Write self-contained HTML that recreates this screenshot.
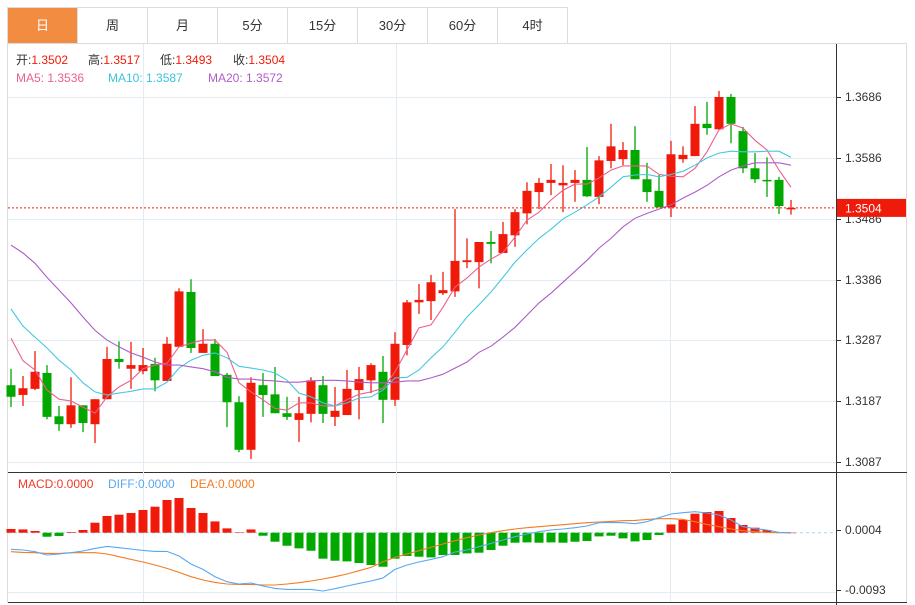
<!DOCTYPE html>
<html><head><meta charset="utf-8">
<style>
html,body{margin:0;padding:0;background:#fff;width:915px;height:605px;overflow:hidden;font-family:"Liberation Sans","Noto Sans CJK SC",sans-serif;}
#tabs{position:absolute;left:7px;top:7px;height:36px;display:flex;border-top:1px solid #dcdcdc;border-left:1px solid #dcdcdc;}
.tab{width:69px;height:35px;border-right:1px solid #dcdcdc;text-align:center;line-height:36px;font-size:13px;color:#333;}
.tab.on{background:#f28c40;color:#fff;}
svg{position:absolute;left:0;top:0;}
</style></head><body>
<div id="tabs">
<div class="tab on">日</div>
<div class="tab">周</div>
<div class="tab">月</div>
<div class="tab">5分</div>
<div class="tab">15分</div>
<div class="tab">30分</div>
<div class="tab">60分</div>
<div class="tab">4时</div>
</div>
<svg id="chart" width="915" height="605"></svg>
<script>
const opens=[1.3213,1.3197,1.3207,1.3233,1.3162,1.3149,1.3180,1.3149,1.3190,1.3256,1.3240,1.3236,1.3248,1.3220,1.3276,1.3366,1.3266,1.3281,1.3230,1.3185,1.3107,1.3213,1.3198,1.3167,1.3156,1.3166,1.3213,1.3161,1.3164,1.3205,1.3221,1.3235,1.3189,1.3279,1.3349,1.3351,1.3364,1.3367,1.3415,1.3415,1.3448,1.3430,1.3459,1.3495,1.3530,1.3545,1.3541,1.3545,1.3550,1.3522,1.3581,1.3584,1.3599,1.3551,1.3532,1.3505,1.3584,1.3589,1.3642,1.3633,1.3686,1.3630,1.3569,1.3550,1.3550,1.3502];
const highs=[1.3240,1.3228,1.3269,1.3246,1.3179,1.3226,1.3180,1.3190,1.3276,1.3285,1.3284,1.3274,1.3258,1.3292,1.3372,1.3387,1.3305,1.3289,1.3233,1.3195,1.3226,1.3233,1.3243,1.3194,1.3194,1.3226,1.3228,1.3210,1.3238,1.3243,1.3249,1.3261,1.3300,1.3353,1.3379,1.3394,1.3399,1.3502,1.3454,1.3448,1.3466,1.3481,1.3502,1.3546,1.3553,1.3576,1.3574,1.3566,1.3604,1.3589,1.3642,1.3612,1.3638,1.3578,1.3558,1.3614,1.3605,1.3671,1.3678,1.3696,1.3691,1.3637,1.3594,1.3587,1.3555,1.3517];
const lows=[1.3177,1.3179,1.3205,1.3157,1.3138,1.3143,1.3136,1.3118,1.3190,1.3240,1.3207,1.3231,1.3203,1.3220,1.3276,1.3266,1.3266,1.3228,1.3144,1.3103,1.3092,1.3161,1.3167,1.3156,1.3120,1.3152,1.3151,1.3146,1.3164,1.3157,1.3200,1.3151,1.3179,1.3262,1.3330,1.3320,1.3361,1.3358,1.3405,1.3372,1.3413,1.3430,1.3440,1.3477,1.3502,1.3525,1.3497,1.3514,1.3522,1.3510,1.3569,1.3574,1.3551,1.3514,1.3505,1.3489,1.3578,1.3589,1.3624,1.3632,1.3610,1.3561,1.3545,1.3522,1.3494,1.3493];
const closes=[1.3194,1.3208,1.3235,1.3161,1.3149,1.3180,1.3151,1.3190,1.3256,1.3251,1.3246,1.3246,1.3221,1.3281,1.3367,1.3274,1.3281,1.3228,1.3185,1.3107,1.3217,1.3197,1.3167,1.3161,1.3167,1.3221,1.3166,1.3171,1.3207,1.3223,1.3246,1.3189,1.3281,1.3349,1.3353,1.3382,1.3369,1.3417,1.3418,1.3448,1.3445,1.3461,1.3497,1.3532,1.3545,1.3550,1.3545,1.3550,1.3523,1.3582,1.3605,1.3599,1.3551,1.3530,1.3505,1.3592,1.3591,1.3642,1.3635,1.3686,1.3642,1.3569,1.3551,1.3548,1.3507,1.3504];
const ma5=[1.3290,1.3253,1.3238,1.3205,1.3190,1.3187,1.3177,1.3167,1.3194,1.3210,1.3221,1.3240,1.3246,1.3249,1.3276,1.3282,1.3287,1.3287,1.3267,1.3217,1.3202,1.3189,1.3175,1.3172,1.3184,1.3184,1.3179,1.3179,1.3189,1.3198,1.3202,1.3208,1.3235,1.3271,1.3307,1.3312,1.3341,1.3374,1.3389,1.3407,1.3420,1.3431,1.3456,1.3484,1.3497,1.3517,1.3533,1.3543,1.3543,1.3553,1.3566,1.3573,1.3573,1.3573,1.3559,1.3556,1.3555,1.3569,1.3596,1.3632,1.3642,1.3635,1.3615,1.3599,1.3566,1.3538];
const ma10=[1.3338,1.3310,1.3292,1.3274,1.3254,1.3238,1.3217,1.3202,1.3197,1.3200,1.3203,1.3207,1.3207,1.3218,1.3241,1.3254,1.3262,1.3266,1.3258,1.3244,1.3241,1.3238,1.3233,1.3221,1.3200,1.3194,1.3184,1.3179,1.3184,1.3192,1.3194,1.3205,1.3225,1.3226,1.3238,1.3258,1.3276,1.3300,1.3325,1.3345,1.3366,1.3390,1.3415,1.3435,1.3454,1.3469,1.3486,1.3497,1.3509,1.3522,1.3538,1.3555,1.3558,1.3559,1.3555,1.3559,1.3564,1.3574,1.3586,1.3594,1.3597,1.3596,1.3596,1.3597,1.3597,1.3587];
const ma20=[1.3443,1.3430,1.3413,1.3390,1.3369,1.3348,1.3325,1.3303,1.3287,1.3276,1.3266,1.3259,1.3251,1.3246,1.3246,1.3243,1.3240,1.3235,1.3226,1.3223,1.3223,1.3221,1.3220,1.3218,1.3218,1.3220,1.3221,1.3221,1.3220,1.3218,1.3217,1.3217,1.3218,1.3220,1.3220,1.3225,1.3231,1.3241,1.3251,1.3267,1.3277,1.3292,1.3308,1.3328,1.3348,1.3364,1.3382,1.3400,1.3418,1.3438,1.3454,1.3473,1.3487,1.3495,1.3502,1.3509,1.3520,1.3530,1.3541,1.3555,1.3566,1.3573,1.3578,1.3578,1.3578,1.3574];
const macdHist=[0.00060,0.00053,0.00028,-0.00065,-0.00053,0.00011,0.00044,0.00162,0.00271,0.00292,0.00319,0.00368,0.00421,0.00530,0.00562,0.00400,0.00319,0.00183,0.00070,0.00005,0.00053,-0.00049,-0.00146,-0.00211,-0.00254,-0.00292,-0.00421,-0.00454,-0.00465,-0.00491,-0.00523,-0.00551,-0.00421,-0.00377,-0.00389,-0.00400,-0.00361,-0.00361,-0.00335,-0.00324,-0.00280,-0.00211,-0.00162,-0.00157,-0.00162,-0.00157,-0.00162,-0.00146,-0.00134,-0.00060,-0.00049,-0.00092,-0.00141,-0.00118,-0.00037,0.00134,0.00206,0.00308,0.00335,0.00352,0.00238,0.00125,0.00081,0.00044,0.00005,0];
const diff=[-0.00269,-0.00280,-0.00308,-0.00361,-0.00345,-0.00324,-0.00296,-0.00254,-0.00222,-0.00243,-0.00264,-0.00287,-0.00303,-0.00303,-0.00377,-0.00507,-0.00595,-0.00713,-0.00794,-0.00831,-0.00815,-0.00863,-0.00902,-0.00919,-0.00919,-0.00919,-0.00944,-0.00907,-0.00863,-0.00821,-0.00782,-0.00734,-0.00595,-0.00523,-0.00475,-0.00433,-0.00389,-0.00313,-0.00280,-0.00227,-0.00173,-0.00118,-0.00065,-0.00021,0.00016,0.00044,0.00060,0.00081,0.00109,0.00162,0.00167,0.00162,0.00146,0.00178,0.00243,0.00303,0.00324,0.00340,0.00319,0.00287,0.00206,0.00097,0.00065,0.00044,0.00005,0];
const dea=[-0.00308,-0.00319,-0.00324,-0.00335,-0.00335,-0.00324,-0.00324,-0.00324,-0.00345,-0.00389,-0.00433,-0.00475,-0.00523,-0.00578,-0.00643,-0.00713,-0.00766,-0.00805,-0.00831,-0.00838,-0.00838,-0.00847,-0.00847,-0.00831,-0.00810,-0.00782,-0.00750,-0.00713,-0.00669,-0.00616,-0.00562,-0.00470,-0.00400,-0.00345,-0.00292,-0.00238,-0.00183,-0.00130,-0.00081,-0.00037,0,0.00032,0.00060,0.00081,0.00097,0.00113,0.00130,0.00146,0.00162,0.00173,0.00183,0.00194,0.00199,0.00215,0.00227,0.00227,0.00215,0.00178,0.00134,0.00097,0.00060,0.00032,0.00016,0.00005,0,0];
const priceTicks=[1.3686,1.3586,1.3486,1.3386,1.3287,1.3187,1.3087];
const macdTicks=[0.0004,-0.0093];
const lastPrice=1.3504;

const NS="http://www.w3.org/2000/svg";
const svg=document.getElementById('chart');
const RED="#f01a0a",GREEN="#00a800";
function xOf(i){return 11+12*i;}
function yP(p){return 97+(1.3686-p)*6093;}
function yM(v){return 532.7-v*6173;}
function mk(tag,attrs,parent){const e=document.createElementNS(NS,tag);for(const k in attrs)e.setAttribute(k,attrs[k]);(parent||svg).appendChild(e);return e;}

const frame=mk('g',{});


mk('rect',{x:7.5,y:43.5,width:899,height:559,fill:'none',stroke:'#dcdcdc'},frame);
const grid=mk('g',{stroke:'#e3ecf2','stroke-width':1});


[143,396,670].forEach(x=>mk('line',{x1:x+0.5,y1:44,x2:x+0.5,y2:602},grid));
priceTicks.forEach(p=>mk('line',{x1:8,y1:Math.round(yP(p))+0.5,x2:836,y2:Math.round(yP(p))+0.5},grid));
mk('line',{x1:8,y1:592.5,x2:836,y2:592.5},grid);
mk('line',{x1:8,y1:472.5,x2:907,y2:472.5,stroke:'#333'},frame);
mk('line',{x1:8,y1:602.5,x2:907,y2:602.5,stroke:'#333'},frame);
mk('line',{x1:836.5,y1:44,x2:836.5,y2:605,stroke:'#333'},frame);

const axis=mk('g',{'font-size':12,fill:'#333'});


priceTicks.forEach(p=>{const y=Math.round(yP(p));mk('line',{x1:837,y1:y+0.5,x2:841,y2:y+0.5,stroke:'#333'},axis);const t=mk('text',{x:845,y:y+4},axis);t.textContent=p.toFixed(4);});
const maxis=mk('g',{'font-size':12,fill:'#333'});


macdTicks.forEach(v=>{const y=Math.round(yM(v));mk('line',{x1:837,y1:y+0.5,x2:841,y2:y+0.5,stroke:'#333'},maxis);const t=mk('text',{x:845,y:y+4},maxis);t.textContent=v.toFixed(4);});

const cg=mk('g',{});


opens.forEach((o,i)=>{
  const c=closes[i],col=c>=o?RED:GREEN,x=xOf(i);
  const g=mk('g',{},cg);
  
  
  mk('line',{x1:x,y1:yP(highs[i]),x2:x,y2:yP(lows[i]),stroke:col,'stroke-width':1.3},g);
  const top=Math.min(yP(o),yP(c)),h=Math.max(1.5,Math.abs(yP(o)-yP(c)));
  mk('rect',{x:x-4.5,y:top,width:9,height:h,fill:col},g);
});

function line(arr,fn,color,name){const p=mk('polyline',{points:arr.map((v,i)=>xOf(i)+','+fn(v).toFixed(1)).join(' '),fill:'none',stroke:color,'stroke-width':1.1});}
line(ma5,yP,'#ec5f8c','ma5-line');
line(ma10,yP,'#45c8de','ma10-line');
line(ma20,yP,'#b05cc8','ma20-line');

const lp=mk('g',{});


const ly=yP(lastPrice);
mk('line',{x1:8,y1:ly,x2:836,y2:ly,stroke:RED,'stroke-dasharray':'2,2'},lp);
mk('rect',{x:837,y:ly-9,width:69,height:18,fill:RED},lp);
const lt=mk('text',{x:845,y:ly+4.5,'font-size':12,fill:'#fff'},lp);lt.textContent=lastPrice.toFixed(4);

const hg=mk('g',{});


mk('line',{x1:8,y1:yM(0),x2:836,y2:yM(0),stroke:'#aad4f0','stroke-dasharray':'3,3'},hg);
macdHist.forEach((v,i)=>{const y0=yM(0),y1=yM(v);const r=mk('rect',{x:xOf(i)-4.5,y:Math.min(y0,y1),width:9,height:Math.max(0.5,Math.abs(y1-y0)),fill:v>=0?RED:GREEN},hg);});
line(dea,yM,'#f57a20','dea-line');
line(diff,yM,'#5aa8f0','diff-line');

function txt(x,y,s,color,name,size){const t=mk('text',{x:x,y:y,'font-size':size||12,fill:color,'font-family':'"Liberation Sans","Noto Sans CJK SC",sans-serif'});t.textContent=s;return t;}
const ohlc=[['开:',1.3502,16],['高:',1.3517,88],['低:',1.3493,160],['收:',1.3504,233]];
ohlc.forEach(([l,v,x])=>{const t=txt(x,64,'','#333','ohlc-legend');t.innerHTML='<tspan fill="#333">'+l+'</tspan><tspan fill="'+RED+'">'+v.toFixed(4)+'</tspan>';});
txt(16,82,'MA5: 1.3536','#ec5f8c','ma5-legend');
txt(108,82,'MA10: 1.3587','#3cc4dc','ma10-legend');
txt(208,82,'MA20: 1.3572','#b05cc8','ma20-legend');
txt(18,488,'MACD:0.0000','#f03a2a','macd-legend');
txt(108,488,'DIFF:0.0000','#5aa8f0','diff-legend');
txt(190,488,'DEA:0.0000','#f57a20','dea-legend');
</script>
</body></html>
